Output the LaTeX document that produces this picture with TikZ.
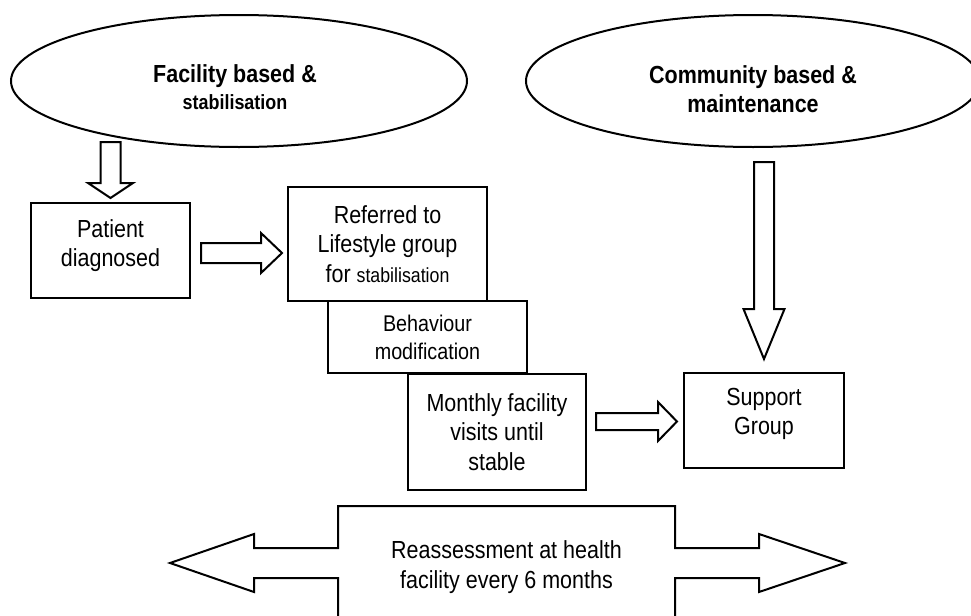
\documentclass[tikz,border=0pt]{standalone}
\usepackage{fontspec}
\setmainfont{Liberation Sans}[FakeStretch=0.87]
\usepackage{tikz}
\usetikzlibrary{shapes.geometric}
\usetikzlibrary{calc}
\newcommand{\txtfont}{\fontsize{12.35}{14.75}\selectfont}
\newcommand{\smlfont}{\fontsize{10.2}{14.75}\selectfont}
\tikzset{
  box/.style={draw, line width=1pt, fill=white, inner sep=0pt, align=center, font=\txtfont},
  oval/.style={ellipse, draw, line width=1pt, inner sep=0pt},
  txt/.style={align=center, font=\txtfont},
  arr/.style={draw, line width=1pt, fill=white, line join=miter}
}

\begin{document}
\begin{tikzpicture}[x=0.5pt, y=-0.5pt]
        \clip (0,0) rectangle (971,616);
        % ovals
        \node[oval, minimum width=228pt, minimum height=66pt] (Fb) at (239,81) {};
        \node[oval, minimum width=227pt, minimum height=66pt] (Cb) at (753,81) {};
        \node[txt, font=\bfseries\fontsize{12.35}{13.5}\selectfont] (FbT) at ($(Fb)+(-4,6)$) {Facility based \&\\{\fontsize{10.3}{13.5}\selectfont stabilisation}};
        \node[txt, font=\bfseries\fontsize{12.35}{14.5}\selectfont] (CbT) at ($(Cb)+(0,8)$) {Community based \&\\maintenance};

        % boxes
        \node[box, minimum width=79.5pt, minimum height=47.5pt] (Pd) at (110.5,250.5) {};
        \node[txt] (PdT) at ($(Pd)+(0,-5)$) {Patient\\diagnosed};
        \node[box, minimum width=99.5pt, minimum height=57pt] (Rl) at (387.5,244) {Referred to\\Lifestyle group\\for {\smlfont stabilisation}};
        \node[box, minimum width=99.5pt, minimum height=36pt, font=\fontsize{11.35}{14}\selectfont] (Bm) at (427.5,337) {Behaviour\\modification};
        \node[box, minimum width=89pt, minimum height=58pt] (Mv) at (497,432) {Monthly facility\\visits until\\stable};
        \node[box, minimum width=80pt, minimum height=47.5pt] (Sg) at (764,420.5) {};
        \node[txt] (SgT) at ($(Sg)+(0,-6.5)$) {Support\\Group};

        % reassessment double arrow
        \draw[arr] (338,620) -- (338,578) -- (254,578) -- (254,592) -- (170,563) -- (254,534) -- (254,548) -- (338,548) -- (338,506)
          -- (675,506) -- (675,548) -- (759,548) -- (759,534) -- (845,563) -- (759,592) -- (759,578) -- (675,578) -- (675,620);
        \node[txt] (Ra) at (506.5,567) {Reassessment at health\\facility every 6 months};

        % block arrows
        \draw[arr] ($(Pd.north)+(-10,-60)$) -- ++(20,0) -- ++(0,41) -- ++(12.5,0) -- ++(-22.5,15) -- ++(-22.5,-15) -- ++(12.5,0) -- cycle;
        \draw[arr] ($(Pd.east)+(10,-7.5)$) -- ++(60,0) -- ++(0,-10) -- ++(21,20) -- ++(-21,20) -- ++(0,-10) -- ++(-60,0) -- cycle;
        \draw[arr] ($(Sg.north)+(-10,-210)$) -- ++(20,0) -- ++(0,147) -- ++(10.5,0) -- ++(-20.5,50) -- ++(-20.5,-50) -- ++(10.5,0) -- cycle;
        \draw[arr] ($(Mv.east)+(9,-19)$) -- ++(62,0) -- ++(0,-11) -- ++(19,19.5) -- ++(-19,19.5) -- ++(0,-11) -- ++(-62,0) -- cycle;
\end{tikzpicture}
\end{document}
